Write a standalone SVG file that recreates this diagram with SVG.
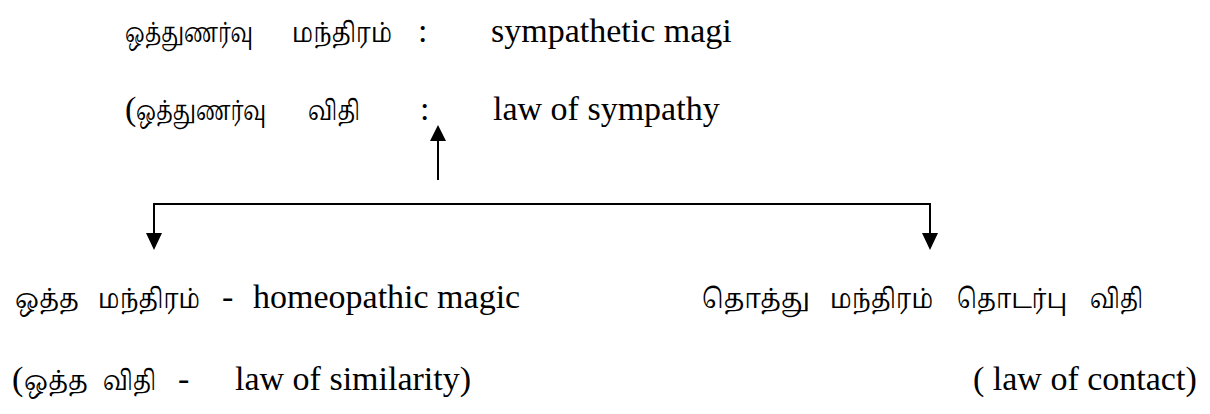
<svg xmlns="http://www.w3.org/2000/svg" width="1210" height="414" viewBox="0 0 1210 414">
<style>
text{font-family:"Liberation Serif","Noto Serif Tamil","Noto Sans Tamil","Lohit Tamil",serif;font-size:34px;fill:#000}
.ta{font-family:"Noto Serif Tamil","Noto Sans Tamil","Lohit Tamil","Liberation Serif",serif;font-size:27px}
.c{fill:none;stroke:#000;stroke-width:2}
.h{fill:#000}
</style>
<g id="connectors">
<line class="c" x1="438" y1="180" x2="438" y2="138"/>
<path class="h" d="M438 125 L446 141 L430 141 Z"/>
<path class="c" d="M154 236 V204 H930 V236"/>
<path class="h" d="M146 233 L162 233 L154 250 Z M922 233 L938 233 L930 250 Z"/>
</g>
<g id="n-sympathetic">
<text x="125" y="42" class="ta" textLength="128" lengthAdjust="spacingAndGlyphs">ஒத்துணர்வு</text>
<text x="292" y="42" class="ta" textLength="100" lengthAdjust="spacingAndGlyphs">மந்திரம்</text>
<text x="418" y="42">:</text>
<text x="491" y="42">sympathetic magi</text>
</g>
<g id="n-law-sympathy">
<text x="125" y="120">(</text>
<text x="136" y="120" class="ta" textLength="130" lengthAdjust="spacingAndGlyphs">ஒத்துணர்வு</text>
<text x="308" y="120" class="ta" textLength="52" lengthAdjust="spacingAndGlyphs">விதி</text>
<text x="420" y="120">:</text>
<text x="493" y="120">law of sympathy</text>
</g>
<g id="n-homeopathic">
<text x="15" y="308" class="ta" textLength="64" lengthAdjust="spacingAndGlyphs">ஒத்த</text>
<text x="98" y="308" class="ta" textLength="102" lengthAdjust="spacingAndGlyphs">மந்திரம்</text>
<text x="222" y="308">-</text>
<text x="253" y="308">homeopathic magic</text>
</g>
<g id="n-similarity">
<text x="12" y="390">(</text>
<text x="24" y="390" class="ta" textLength="64" lengthAdjust="spacingAndGlyphs">ஒத்த</text>
<text x="103" y="390" class="ta" textLength="53" lengthAdjust="spacingAndGlyphs">விதி</text>
<text x="178" y="390">-</text>
<text x="235" y="390">law of similarity)</text>
</g>
<g id="n-contact">
<text x="702" y="308" class="ta" textLength="108" lengthAdjust="spacingAndGlyphs">தொத்து</text>
<text x="830" y="308" class="ta" textLength="103" lengthAdjust="spacingAndGlyphs">மந்திரம்</text>
<text x="957" y="308" class="ta" textLength="110" lengthAdjust="spacingAndGlyphs">தொடர்பு</text>
<text x="1090" y="308" class="ta" textLength="53" lengthAdjust="spacingAndGlyphs">விதி</text>
<text x="973" y="390">( law of contact)</text>
</g>
</svg>
